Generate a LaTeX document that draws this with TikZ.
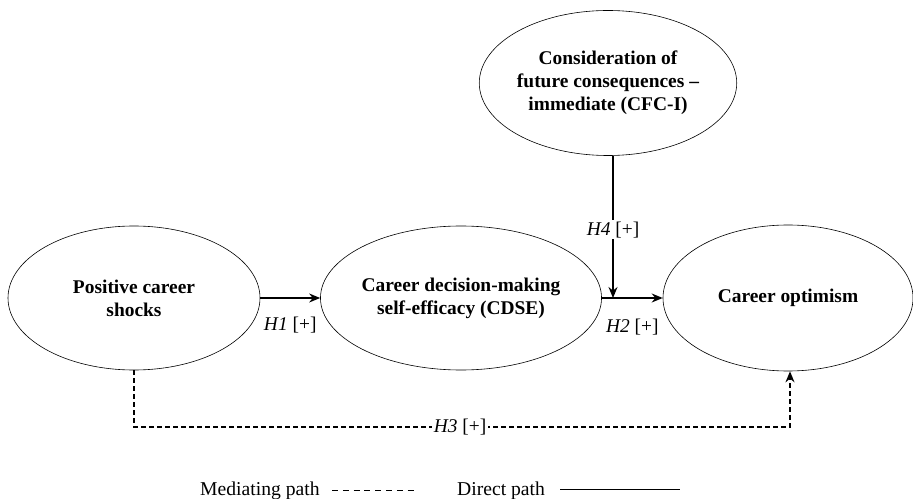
\documentclass[tikz,border=0pt]{standalone}
\usepackage{fontspec}
\setmainfont{Liberation Serif}
\usetikzlibrary{shapes.geometric,arrows.meta}
\begin{document}
\begin{tikzpicture}[x=1bp,y=-1bp,
  construct/.style={ellipse,draw,line width=0.6bp,inner sep=0pt,align=center,
    font=\fontsize{19.5}{23}\selectfont\bfseries},
  path/.style={line width=1.4bp,-{Stealth[length=11bp,width=9bp]}},
  medpath/.style={line width=1.4bp,dash pattern=on 5bp off 3bp,-{Stealth[length=11bp,width=9bp]}},
  lbl/.style={font=\fontsize{19.5}{23}\selectfont,inner sep=1.5bp},
  legend/.style={font=\fontsize{19.7}{23}\selectfont,inner sep=0pt,anchor=base west}]
\useasboundingbox (0,0) rectangle (913,499);
\node[construct,minimum width=252bp,minimum height=144bp] (e1) at (134,298) {Positive career\\shocks};
\node[construct,minimum width=252bp,minimum height=144bp] (e2) at (461,298) {Career decision-making\\self-efficacy (CDSE)};
\node[construct,minimum width=250bp,minimum height=146bp] (e3) at (788,298) {Career optimism};
\node[construct,minimum width=218bp,minimum height=145bp] (e4) at (608,83) {Consideration of\\future consequences --\\immediate (CFC-I)};
\coordinate (j) at (613,298);
\draw[path] (e1.east) -- node[lbl,below=17bp] {\textit{H1} [+]} (e2.west);
\draw[path] (e2.east) -- node[lbl,below=19bp] {\textit{H2} [+]} (e3.west);
\draw[path] (j |- e4.south) -- node[lbl,fill=white,pos=0.52] {\textit{H4} [+]} (j);
\coordinate (c1) at (134,427);
\coordinate (c2) at (790,427);
\draw[medpath] (e1.south) -- (c1) -- node[lbl,fill=white,pos=0.497] {\textit{H3} [+]} (c2) -- (c2 |- e3.south);
\node[legend] (l1) at (200,495) {Mediating path};
\coordinate (d1) at (332,490);
\coordinate (d2) at (416,490);
\draw[line width=1bp,dash pattern=on 6bp off 4.8bp] (d1) -- (d2);
\node[legend] (l2) at (457,495) {Direct path};
\coordinate (s1) at (560,489.5);
\coordinate (s2) at (680,489.5);
\draw[line width=1.4bp] (s1) -- (s2);
\end{tikzpicture}
\end{document}
